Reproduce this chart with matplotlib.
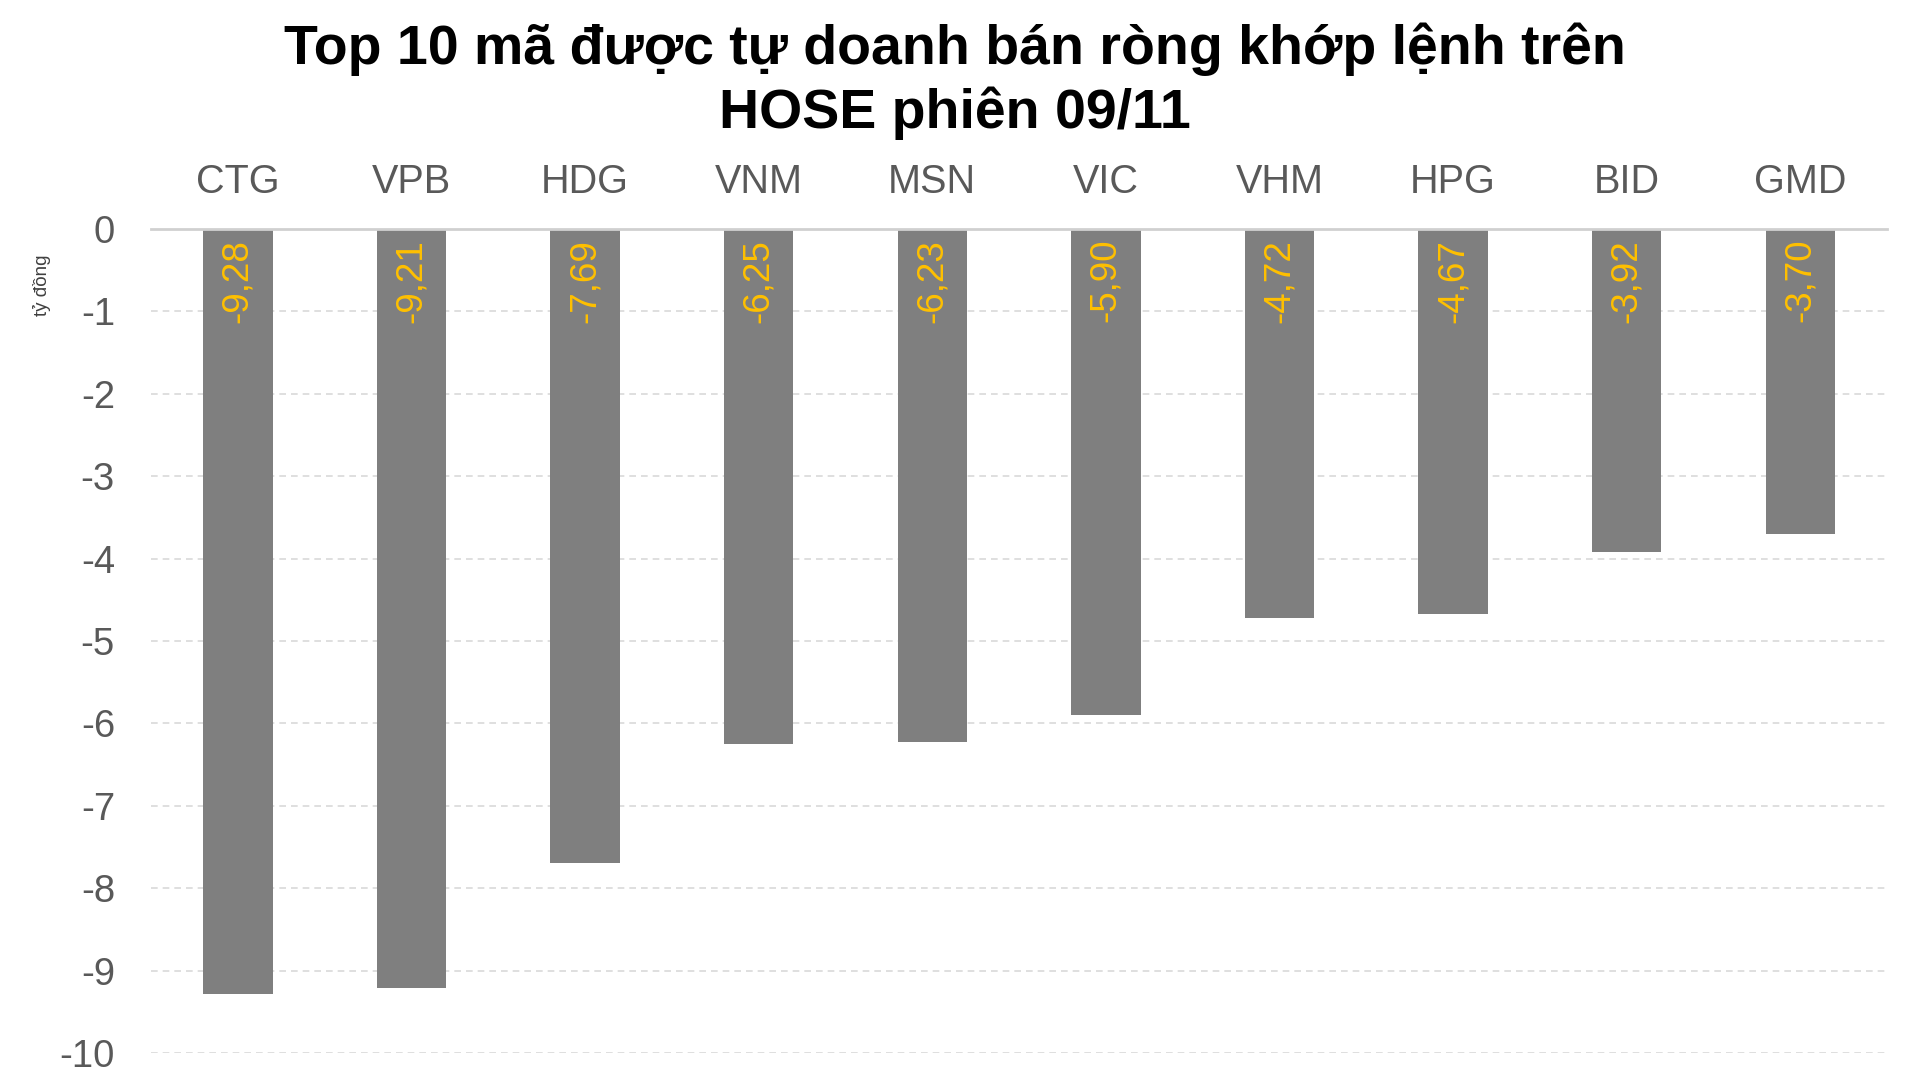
import matplotlib.pyplot as plt
import numpy as np

plt.rcParams['font.family'] = ['Liberation Sans', 'DejaVu Sans']
plt.rcParams['axes.unicode_minus'] = False

# Data
codes = ['CTG', 'VPB', 'HDG', 'VNM', 'MSN', 'VIC', 'VHM', 'HPG', 'BID', 'GMD']
values = [-9.28, -9.21, -7.69, -6.25, -6.23, -5.90, -4.72, -4.67, -3.92, -3.70]
y_ticks = [0, -1, -2, -3, -4, -5, -6, -7, -8, -9, -10]

fig = plt.figure(figsize=(19.09, 10.86), dpi=100)
ax = fig.add_axes([0.0791, 0.0304, 0.9094, 0.7587])

x = np.arange(len(codes))
ax.bar(x, values, width=0.4, color='#7F7F7F', zorder=2)

# value labels inside bars, rotated
for xi, v in zip(x, values):
    ax.annotate(f'{v:.2f}'.replace('.', ','), (xi, 0), xytext=(0, -7),
                textcoords='offset points', rotation=90, ha='center', va='top',
                color='#FFC000', fontsize=26.5, zorder=3)

ax.set_xlim(-0.5, len(codes) - 0.5)
ax.set_ylim(-10, 0)
ax.set_yticks(y_ticks)
ax.set_yticklabels([str(t) for t in y_ticks])
ax.set_xticks(x)
ax.set_xticklabels(codes)
ax.xaxis.tick_top()
ax.tick_params(axis='x', length=0, pad=20, labelsize=28.5, labelcolor='#595959')
ax.tick_params(axis='y', length=0, pad=26, labelsize=27.5, labelcolor='#595959')

ax.grid(axis='y', color='#D9D9D9', linestyle='--', linewidth=1.2, dashes=(4, 3), zorder=0)
for s in ['left', 'right', 'bottom']:
    ax.spines[s].set_visible(False)
ax.spines['top'].set_color('#D0D0D0')
ax.spines['top'].set_linewidth(2)

fig.text(0.022, 0.737, 'tỷ đồng', rotation=90, ha='center', va='center',
         fontsize=13.5, color='#404040')

fig.text(0.5, 0.925, 'Top 10 mã được tự doanh bán ròng khớp lệnh trên\nHOSE phiên 09/11',
         ha='center', va='center', fontsize=40, fontweight='bold', linespacing=1.25)

plt.savefig('out.png', dpi=100)
